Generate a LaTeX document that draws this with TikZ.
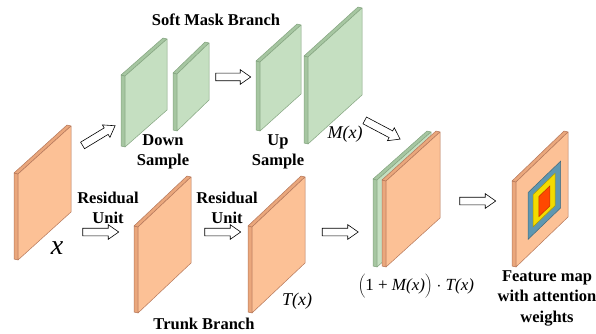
\documentclass[tikz,border=0pt]{standalone}
\usepackage{fontspec}
\setmainfont{Liberation Serif}
\usetikzlibrary{shapes.arrows}

\definecolor{orangeface}{HTML}{FCC196}
\definecolor{orangeside}{HTML}{EAA77C}
\definecolor{orangeedge}{HTML}{B5775A}
\definecolor{greenface}{HTML}{C5DFC1}
\definecolor{greenside}{HTML}{A6C6A1}
\definecolor{greenedge}{HTML}{84A480}
\definecolor{mapblue}{HTML}{5E97B1}
\definecolor{mapyellow}{HTML}{F3DB00}
\definecolor{mapred}{HTML}{FF4800}

% one feature map: left x, bottom y, width, height, rise, colour
\newcommand{\slab}[6]{%
  \draw[#6edge, fill=#6side, line join=round] (#1,#2-1) -- ++(0,-#4) -- ++(4,1) -- ++(0,#4) -- cycle;
  \draw[#6edge, fill=#6side, line join=round] (#1,#2-#4-1) -- ++(#3,-#5) -- ++(4,1) -- ++(-#3,#5) -- cycle;
  \draw[#6edge, fill=#6face, line join=round] (#1+4,#2) -- ++(0,-#4) -- ++(#3,-#5) -- ++(0,#4) -- cycle;
}

\tikzset{
  lbl/.style={font=\fontsize{16.5}{20.5}\selectfont\bfseries, align=center, inner sep=0pt},
  hollow arrow/.style={single arrow, draw=black, fill=white, line width=0.6pt,
    inner xsep=0pt, inner ysep=3.5pt, single arrow head extend=3.5pt,
    single arrow tip angle=70, minimum height=#1}
}

\begin{document}
\begin{tikzpicture}[x=1pt,y=-1pt,line width=0.5pt]
  \useasboundingbox (0,0) rectangle (596,334);

  % soft mask branch
  \slab{121}{147}{42}{71}{37}{green}
  \slab{173}{131}{32}{57}{31}{green}
  \slab{256}{131}{41}{69}{37}{green}
  \slab{304}{144}{54}{87}{49}{green}

  % trunk branch
  \slab{14}{260}{53}{86}{48}{orange}
  \foreach \xl in {134,248}
    {\slab{\xl}{313}{53}{86}{50}{orange}}

  % product
  \slab{373}{267}{54}{87}{48}{green}
  \slab{382}{267}{54}{86}{49}{orange}

  % output map with weights
  \slab{512}{267}{52}{85}{50}{orange}
  \draw[mapblue!70!black, fill=mapblue] (528,239.4) -- (528,192.6) -- (560.7,161.1) -- (560.7,207.9) -- cycle;
  \draw[mapyellow!70!black, fill=mapyellow] (533.2,226.7) -- (533.2,194.4) -- (555,173.4) -- (555,205.7) -- cycle;
  \draw[mapred!75!black, fill=mapred] (538.9,216.5) -- (538.9,196.5) -- (549.8,186) -- (549.8,206) -- cycle;

  % arrows
  \coordinate (a1) at (80,147);  \coordinate (b1) at (113,127);
  \coordinate (a2) at (213,77);  \coordinate (b2) at (248,77);
  \coordinate (a3) at (362,119); \coordinate (b3) at (398,138);
  \coordinate (a4) at (80,232);  \coordinate (b4) at (116,232);
  \coordinate (a5) at (202,232); \coordinate (b5) at (238,232);
  \coordinate (a6) at (319,232); \coordinate (b6) at (356,232);
  \coordinate (a7) at (457,201); \coordinate (b7) at (493,201);
  \path (a1) -- (b1) node[midway, sloped, hollow arrow=38pt] {};
  \path (a2) -- (b2) node[midway, sloped, hollow arrow=35pt] {};
  \path (a3) -- (b3) node[midway, sloped, hollow arrow=40pt] {};
  \foreach \i in {4,...,7}
    {\path (a\i) -- (b\i) node[midway, sloped, hollow arrow=36pt] {};}

  % labels
  \node[lbl] (soft) at (216,20) {Soft Mask Branch};
  \node[lbl] (down) at (163,152) {Down\\Sample};
  \node[lbl] (up) at (278,152) {Up\\Sample};
  \node[lbl] (res1) at (108,208) {Residual\\Unit};
  \node[lbl] (res2) at (227,208) {Residual\\Unit};
  \node[lbl] (trunk) at (204,324) {Trunk Branch};
  \node[lbl] (feat) at (547,298) {Feature map\\with attention\\weights};
  \node[font=\fontsize{28}{30}\selectfont\itshape, inner sep=0pt] (xin) at (57,248) {x};
  \node[font=\fontsize{18}{20}\selectfont\itshape, inner sep=0pt] (mx) at (345,134) {M(x)};
  \node[font=\fontsize{18}{20}\selectfont\itshape, inner sep=0pt] (tx) at (297,301) {T(x)};
  \node[font=\fontsize{17}{20}\selectfont, inner sep=0pt] (prod) at (416,286)
    {$\biggl($1 + \textit{M(x)}$\biggr)$ $\cdot$ \textit{T(x)}};
\end{tikzpicture}
\end{document}
